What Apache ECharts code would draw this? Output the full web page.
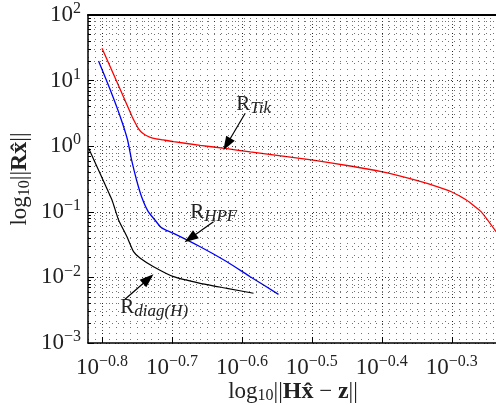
<!DOCTYPE html>
<html><head><meta charset="utf-8">
<script src="https://cdn.jsdelivr.net/npm/echarts@6/dist/echarts.min.js"></script>
<style>html,body{margin:0;padding:0;background:#fff}#c{width:496px;height:405px}</style>
</head><body><div id="c"></div>
<script>
// ---- data (log10 values) ----
const tikX = [-0.800,-0.7767,-0.7567,-0.7524,-0.7481,-0.7439,-0.7381,-0.7310,-0.7224,-0.7124,-0.6977,-0.6596,-0.6214,-0.5881,-0.5006,-0.4453,-0.4006,-0.3529,-0.3167,-0.3006,-0.2791,-0.2581,-0.2367];
const tikY = [1.492,0.933,0.445,0.354,0.273,0.216,0.171,0.136,0.113,0.095,0.069,0.014,-0.038,-0.088,-0.210,-0.302,-0.389,-0.515,-0.630,-0.694,-0.820,-0.998,-1.303];
const hpfX = [-0.8049,-0.7881,-0.7739,-0.7634,-0.7577,-0.7506,-0.7434,-0.7339,-0.7243,-0.7167,-0.7100,-0.6977,-0.6596,-0.6214,-0.5881,-0.5477];
const hpfY = [1.299,0.857,0.450,0.095,-0.210,-0.515,-0.770,-0.998,-1.125,-1.227,-1.272,-1.328,-1.532,-1.761,-1.989,-2.258];
const diagX = [-0.8191,-0.8024,-0.7857,-0.7763,-0.7643,-0.7549,-0.7453,-0.7263,-0.6977,-0.6596,-0.6214,-0.5834];
const diagY = [-0.032,-0.424,-0.820,-1.125,-1.380,-1.608,-1.709,-1.837,-1.989,-2.090,-2.166,-2.242];

// ---- ticks ----
const xMajors = [-0.8,-0.7,-0.6,-0.5,-0.4,-0.3];
const xTickExp = ['\u22120.8','\u22120.7','\u22120.6','\u22120.5','\u22120.4','\u22120.3'];
const yMajors = [-3,-2,-1,0,1,2];
const yTickExp = ['\u22123','\u22122','\u22121','0','1','2'];
const yMinorMult = [2,3,4,5,6,7,8,9];

// ---- annotations (data coords) ----
const annLabels = [
  {name:'R', sub:'Tik', x:-0.6081, y:0.445},
  {name:'R', sub:'HPF', x:-0.6739, y:-1.202},
  {name:'R', sub:'diag(H)', x:-0.7739, y:-2.65}
];
const annArrows = [
  {from:[-0.5953,0.502], to:[-0.6214,0.029]},
  {from:[-0.6406,-1.151], to:[-0.6739,-1.404]},
  {from:[-0.7671,-2.334], to:[-0.7339,-2.024]}
];

const XMIN = -0.82, XMAX = -0.2339, YMIN = -3, YMAX = 2;
const FF = 'Liberation Serif';
const TXT = '#222';

const zip = (a,b) => a.map((v,i)=>[v,b[i]]);

const minorStyle = {color:'#000', width:1, type:[1,5], opacity:0.55};
const majorStyle = {color:'#000', width:1, type:[1,2,1,5], opacity:0.75};

const gridLines = [];
xMajors.forEach(v=>gridLines.push({xAxis:v, lineStyle:majorStyle}));
yMajors.forEach(n=>{ if(n<YMAX) yMinorMult.forEach(k=>gridLines.push({yAxis:n+Math.log10(k), lineStyle:minorStyle})); });

// inward tick marks
const tickSegs = [];
xMajors.forEach(v=>tickSegs.push([{coord:[v,YMIN]},{coord:[v,YMIN+6/65.6]}]));
yMajors.forEach(n=>{ if(n<YMAX) yMinorMult.forEach(k=>{const v=n+Math.log10(k); tickSegs.push([{coord:[XMIN,v]},{coord:[XMIN+3/700,v]}]);}); });

const richTick = {
  b:{fontSize:23, fontFamily:FF, color:TXT},
  s:{fontSize:16, fontFamily:FF, color:TXT, padding:[0,0,12,0]}
};

const chart = echarts.init(document.getElementById('c'), null, {renderer:'canvas'});
chart.setOption({
  animation:false,
  grid:{left:88, top:15, right:-2, bottom:62, containLabel:false, outerBoundsMode:'none'},
  xAxis:[{
    type:'value', min:XMIN, max:XMAX, interval:0.01, position:'bottom',
    axisLine:{show:true, onZero:false, lineStyle:{color:'#000', width:1.5}},
    axisTick:{show:false},
    splitLine:{show:true, lineStyle:minorStyle},
    axisLabel:{interval:0, margin:11, showMinLabel:true, showMaxLabel:false, hideOverlap:false,
      formatter:function(v){
        const i = xMajors.findIndex(m=>Math.abs(m-v)<1e-6);
        return i<0 ? '' : '{b|10}{s|'+xTickExp[i]+'}';
      }, rich:richTick},
    name:'{n|log}{sub|10}{n|||}{bd|H}{bd|x\u0302}{n| \u2212 }{bd|z}{n|||}',
    nameLocation:'middle', nameGap:37, nameMoveOverlap:false,
    nameTextStyle:{lineHeight:24, rich:{
      n:{fontSize:23, lineHeight:24, fontFamily:FF, color:TXT},
      sub:{fontSize:16, lineHeight:16, fontFamily:FF, color:TXT, padding:[8,0,0,0]},
      bd:{fontSize:24, lineHeight:24, fontFamily:FF, color:TXT, fontWeight:'bold'}
    }}
  },{
    type:'value', min:XMIN, max:XMAX, position:'top',
    axisLine:{show:true, onZero:false, lineStyle:{color:'#000', width:2}},
    axisTick:{show:false}, axisLabel:{show:false}, splitLine:{show:false}
  }],
  yAxis:{
    type:'value', min:YMIN, max:YMAX, interval:1,
    axisLine:{show:true, onZero:false, lineStyle:{color:'#000', width:1.5}},
    axisTick:{show:true, inside:true, length:6, lineStyle:{color:'#000'}},
    splitLine:{show:true, lineStyle:majorStyle},
    axisLabel:{margin:7,
      formatter:function(v){
        const i = yMajors.findIndex(m=>Math.abs(m-v)<1e-6);
        return i<0 ? '' : '{b|10}{s|'+yTickExp[i]+'}';
      }, rich:richTick},
    name:'{n|log}{sub|10}{n|||}{bd|Rx\u0302}{n|||}',
    nameLocation:'middle', nameGap:55, nameRotate:90, nameMoveOverlap:false,
    nameTextStyle:{rich:{
      n:{fontSize:23, fontFamily:FF, color:TXT},
      sub:{fontSize:16, fontFamily:FF, color:TXT, padding:[10,0,0,0]},
      bd:{fontSize:24, fontFamily:FF, color:TXT, fontWeight:'bold'}
    }}
  },
  series:[
    {type:'line', name:'grid', data:[], silent:true, z:1,
      markLine:{silent:true, symbol:'none', label:{show:false}, animation:false,
        data: gridLines.concat(tickSegs.map(s=>[Object.assign({lineStyle:{color:'#000',width:1,type:'solid',opacity:1}},s[0]), s[1]]))}},
    {type:'line', name:'Tik', data:zip(tikX,tikY), showSymbol:false, smooth:0.15, clip:true, z:3,
      lineStyle:{color:'#ff0000', width:1.3}},
    {type:'line', name:'HPF', data:zip(hpfX,hpfY), showSymbol:false, smooth:0.15, clip:true, z:3,
      lineStyle:{color:'#0000ff', width:1.3}},
    {type:'line', name:'diag', data:zip(diagX,diagY), showSymbol:false, smooth:0.15, clip:true, z:3,
      lineStyle:{color:'#000000', width:1.2},
      markLine:{silent:true, symbol:['none','triangle'], symbolSize:[10,14], label:{show:false},
        lineStyle:{color:'#000', width:1.2, type:'solid'},
        data: annArrows.map(a=>[{coord:a.from},{coord:a.to}])}}
  ]
});

const g = annLabels.map(a=>{
  const p = chart.convertToPixel({gridIndex:0}, [a.x, a.y]);
  return {type:'text', x:p[0], y:p[1], z:10,
    style:{text:'{r|'+a.name+'}{s|'+a.sub+'}', verticalAlign:'bottom', align:'left',
      rich:{r:{fontSize:21, fontFamily:FF, fill:TXT, color:TXT},
            s:{fontSize:17, fontFamily:FF, fontStyle:'italic', fill:TXT, color:TXT, padding:[9,0,0,0]}}}};
});
chart.setOption({graphic:g});
</script></body></html>
